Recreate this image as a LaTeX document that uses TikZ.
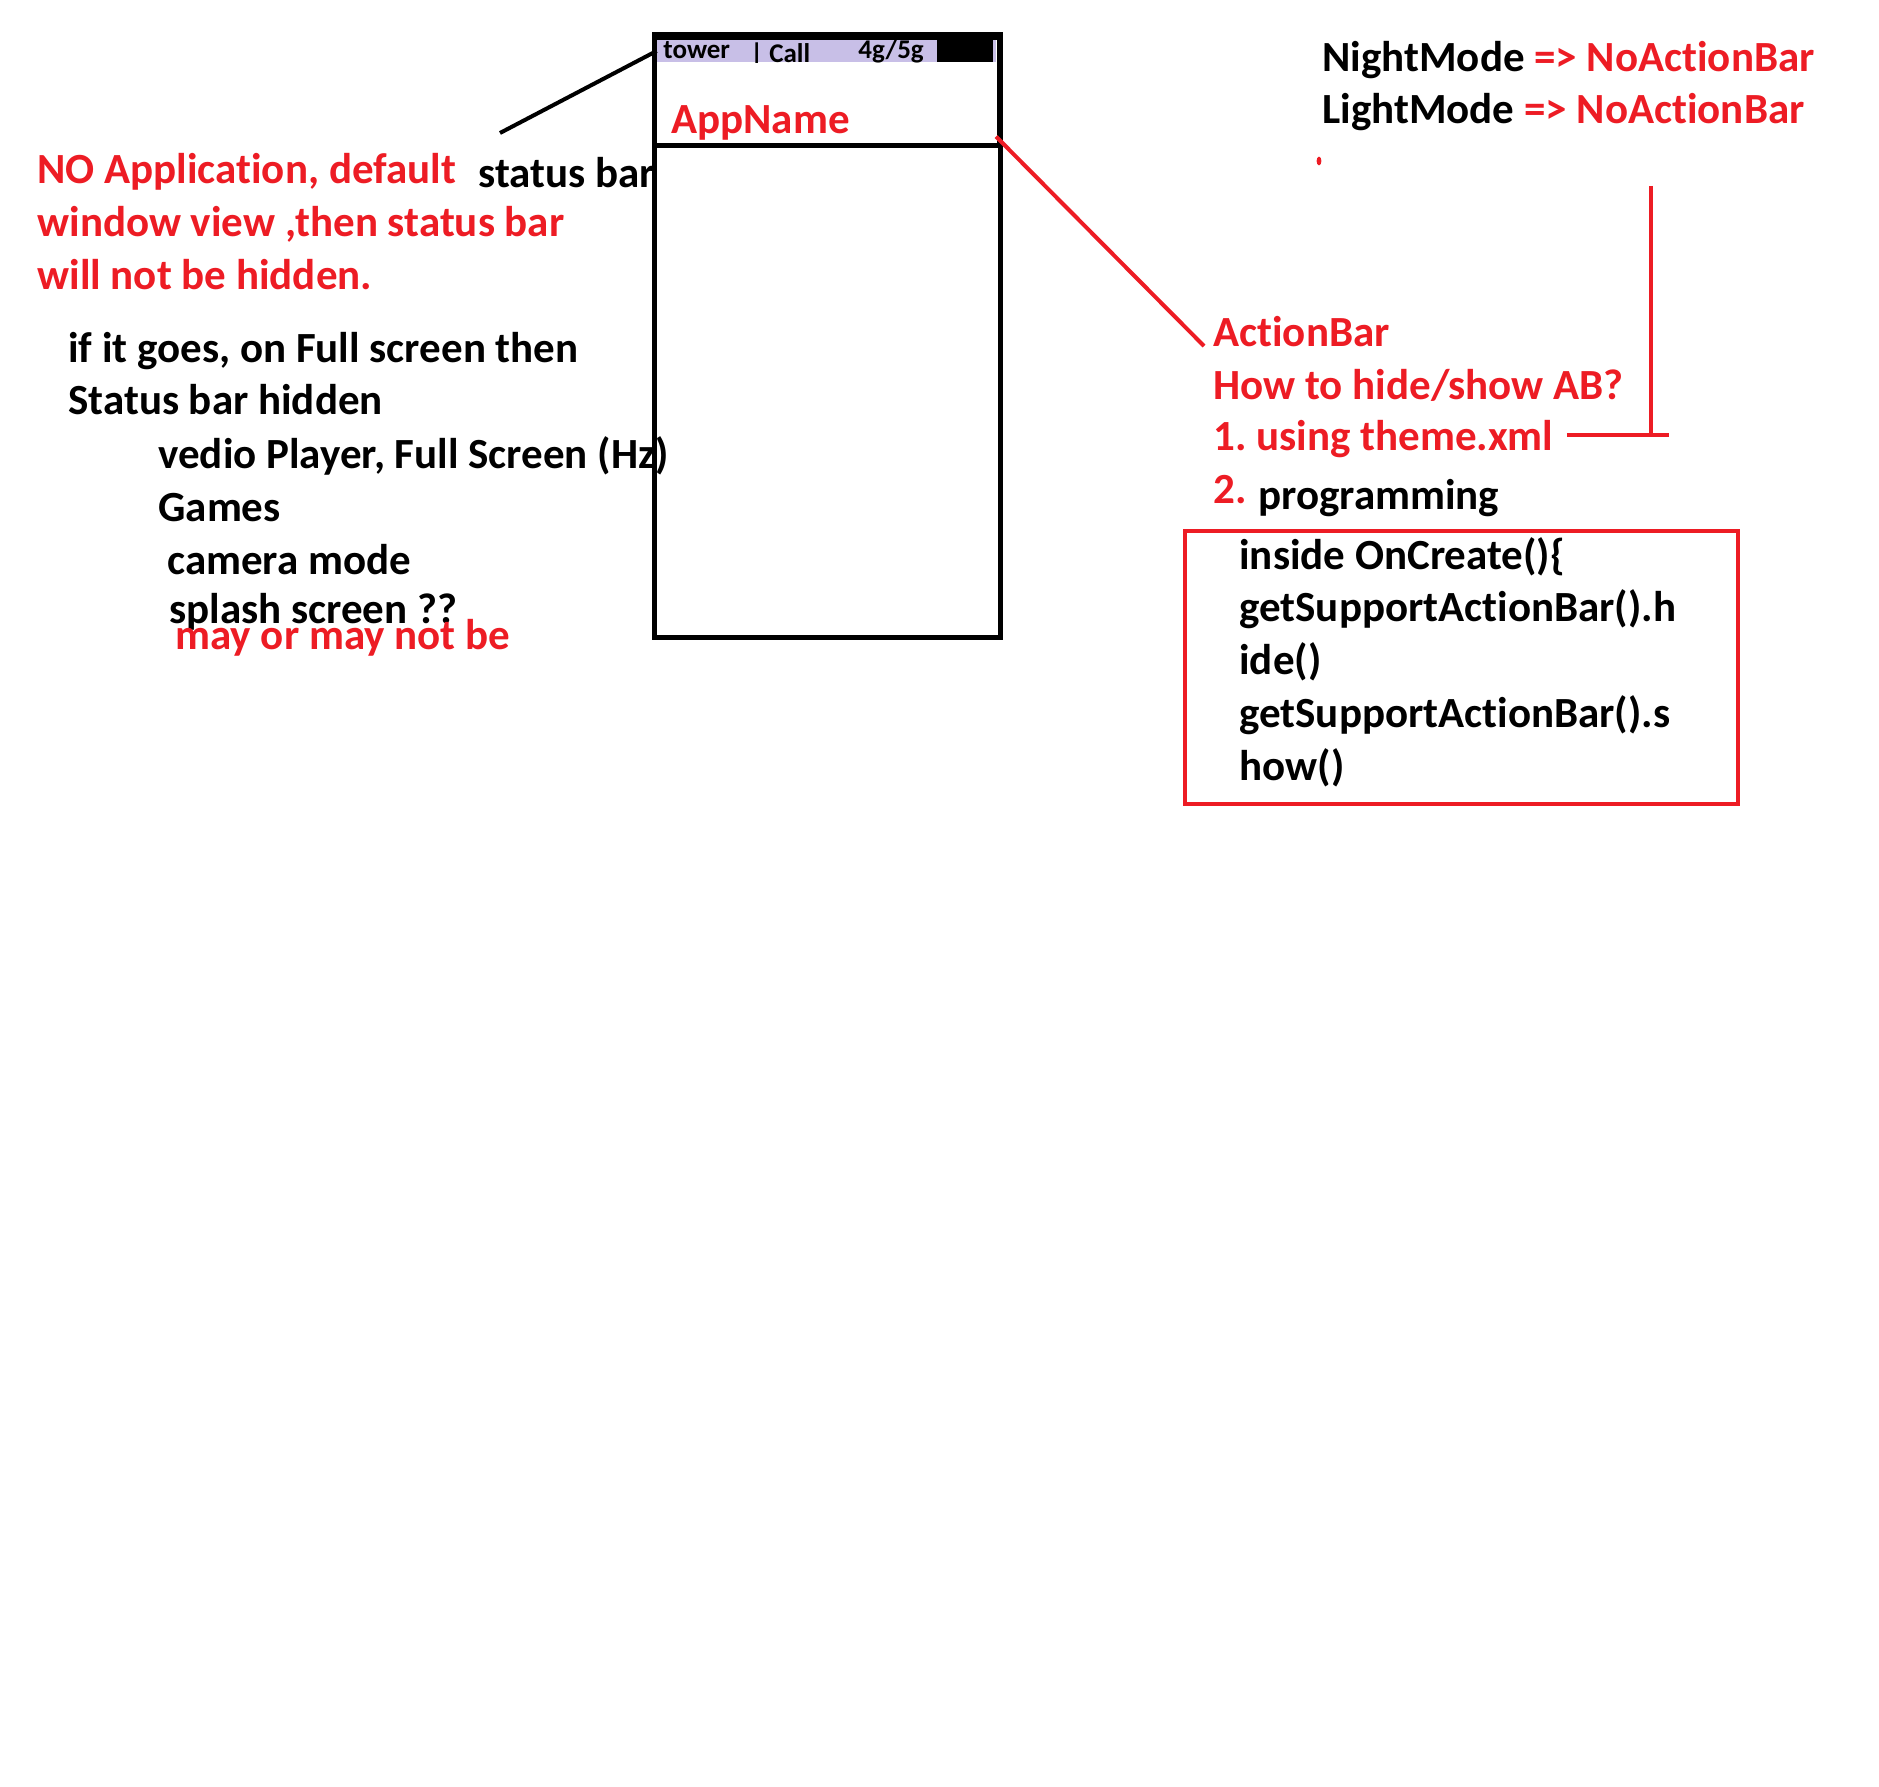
\documentclass[tikz,border=0pt]{standalone}
\usepackage{fontspec}
\setmainfont{Carlito}[Ligatures=CommonOff]
\frenchspacing
\usetikzlibrary{positioning}
\definecolor{paintred}{RGB}{237,28,36}
\definecolor{lavender}{RGB}{200,191,231}

\begin{document}
\begin{tikzpicture}[x=0.5pt,y=-0.5pt,
  note/.style={anchor=base west,inner sep=0pt,font=\fontsize{21.5}{26.5}\selectfont\bfseries},
  red note/.style={note,text=paintred},
  tiny note/.style={anchor=base west,inner sep=0pt,font=\fontsize{13.5}{16}\selectfont\bfseries},
  red line/.style={draw=paintred,line width=2pt},
  phone line/.style={draw=black,line width=2.5pt}]

  \useasboundingbox[fill=white] (0,0) rectangle (1879,1787);

  % left notes
  \node[red note] (noapp) at (37,184) {NO Application, default};
  \node[note] (sbtext) at (478,188) {status bar};
  \node[red note] (winview) at (37,237) {window view ,then status bar};
  \node[red note] (nothidden) at (37,290) {will not be hidden.};
  \node[note] (fullscr) at (68,362) {if it goes, on Full screen then};
  \node[note] (sbhidden) at (68,414) {Status bar hidden};
  \node[note] (vedio) at (158,468) {vedio Player, Full Screen (Hz)};
  \node[note] (games) at (158,521) {Games};
  \node[note] (camera) at (167,574) {camera mode};
  \node[note] (splash) at (169,623) {splash screen ??};
  \node[red note] (maybe) at (175,649) {may or may not be};

  % phone
  \node[phone line,rectangle,inner sep=0pt,minimum width=173pt,minimum height=301.25pt] (phone) at (827.5,336) {};
  \node[fill=lavender,rectangle,inner sep=0pt,minimum width=169.5pt,minimum height=11pt] (sbar) at (826.5,51) {};
  \fill (937,40) rectangle (993,62);
  \fill (654,32) rectangle (1002,40);
  \fill (997,32) rectangle (1003,145);
  \begin{scope}
    \clip (sbar.north west) rectangle (sbar.south east);
    \node[tiny note] (tower) at (663,59) {tower};
    \node[tiny note] (call) at (750,63) {| Call};
    \node[tiny note] (net) at (858,59) {4g/5g};
  \end{scope}
  \node[red note] (appname) at (671,134) {AppName};
  \coordinate (divl) at (654,145.5);
  \draw[phone line] (divl) -- (divl -| phone.east);

  \path (sbtext.base west) ++(22,-55) coordinate (sbtip);
  \draw[draw=black,line width=2pt] (sbtip) -- (sbar.west);

  % right notes
  \node[note] (night) at (1322,72) {NightMode \textcolor{paintred}{=> NoActionBar}};
  \node[note] (light) at (1322,124) {LightMode \textcolor{paintred}{=> NoActionBar}};
  \fill[paintred] (1319,161) ellipse (1.2pt and 2.2pt);

  \node[red note] (abar) at (1213,346) {ActionBar};
  \node[red note] (howto) at (1213,399) {How to hide/show AB?};
  \node[red note] (theme) at (1213,450) {1. using theme.xml};
  \node[red note] (two) at (1213,503) {2.};
  \node[note] (prog) at (1258,509) {programming};

  \path (divl -| phone.east) ++(-7,-9) coordinate (apptip);
  \path (abar.base west) ++(-9,0) coordinate (abtip);
  \draw[red line] (apptip) -- (abtip);

  \coordinate (brtop) at (1651,186);
  \coordinate (brfoot) at (1669,435);
  \path (theme.base east) ++(13,0) coordinate (brstart);
  \draw[red line] (brtop) -- (brtop |- brfoot);
  \draw[red line] (brstart |- brfoot) -- (brfoot);

  % code box
  \node[red line,rectangle,inner sep=0pt,minimum width=276.5pt,minimum height=136.5pt] (codebox) at (1461.5,667.5) {};
  \node[note] (c1) at (1239,569) {inside OnCreate()\{};
  \node[note] (c2) at ([yshift=-26.4pt]c1.base west) {getSupportActionBar().h};
  \node[note] (c3) at ([yshift=-26.4pt]c2.base west) {ide()};
  \node[note] (c4) at ([yshift=-26.4pt]c3.base west) {getSupportActionBar().s};
  \node[note] (c5) at ([yshift=-26.4pt]c4.base west) {how()};

\end{tikzpicture}
\end{document}
